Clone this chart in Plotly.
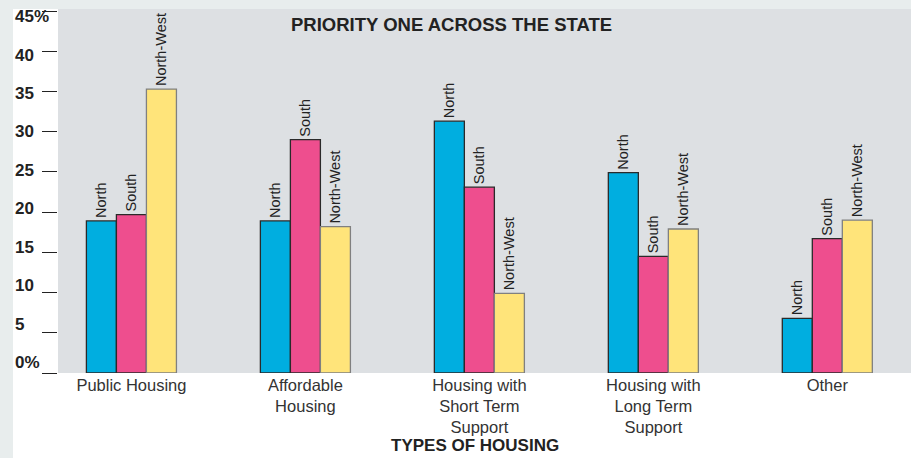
import plotly.graph_objects as go

categories = ["Public Housing", "Affordable<br>Housing", "Housing with<br>Short Term<br>Support",
              "Housing with<br>Long Term<br>Support", "Other"]
series_names = ["North", "South", "North-West"]
north = [18.9, 18.9, 31.3, 24.9, 6.8]
south = [19.7, 29.0, 23.1, 14.5, 16.7]
north_west = [35.3, 18.2, 9.9, 17.9, 19.0]
tick_values = [0, 5, 10, 15, 20, 25, 30, 35, 40, 45]
tick_labels = ["0%", "5", "10", "15", "20", "25", "30", "35", "40", "45%"]

title_text = "PRIORITY ONE ACROSS THE STATE"
xaxis_title = "TYPES OF HOUSING"

W, H = 911, 458
ML, MR, MT, MB = 58, 0, 9, 85
pw, ph = W - ML - MR, H - MT - MB

def px_x(p):
    return (p - ML) / pw

def px_y(p):
    return (H - MB - p) / ph

colors = ["#00aee0", "#ee4e8e", "#ffe47a"]
outlines = ["#2a2a2a", "#2a2a2a", "#808080"]
series = [north, south, north_west]

fig = go.Figure()
xs = list(range(len(categories)))
for name, vals, c, oc in zip(series_names, series, colors, outlines):
    fig.add_trace(go.Bar(
        x=xs, y=vals, name=name,
        marker=dict(color=c, line=dict(color=oc, width=1.3)),
        text=[name] * len(vals), textposition="outside", textangle=-90,
        constraintext="none", cliponaxis=False,
        textfont=dict(family="Liberation Sans, Arial, sans-serif", size=14.5, color="#222222"),
        hoverinfo="skip",
    ))

annotations = [
    dict(text=f"<b>{title_text}</b>", x=px_x(451), y=px_y(24.5), xref="paper", yref="paper",
         xanchor="center", yanchor="middle", showarrow=False,
         font=dict(family="Liberation Sans, Arial, sans-serif", size=18.5, color="#222222")),
    dict(text=f"<b>{xaxis_title}</b>", x=px_x(474.5), y=px_y(445), xref="paper", yref="paper",
         xanchor="center", yanchor="middle", showarrow=False,
         font=dict(family="Liberation Sans, Arial, sans-serif", size=17, color="#222222")),
]
for v, lab in zip(tick_values, tick_labels):
    annotations.append(dict(
        text=f"<b>{lab}</b>", x=px_x(13), y=v, xref="paper", yref="y",
        xanchor="left", yanchor="middle", showarrow=False,
        yshift=(45 - v) * 0.345 - 5.5,
        font=dict(family="Liberation Sans Narrow, Arial Narrow, Liberation Sans, sans-serif",
                  size=17, color="#222222")))

strip = "#e8eded"
shapes = [
    dict(type="rect", xref="paper", yref="paper", x0=px_x(0), x1=1, y0=px_y(9), y1=px_y(0),
         fillcolor=strip, line=dict(width=0), layer="below"),
    dict(type="rect", xref="paper", yref="paper", x0=px_x(0), x1=px_x(13), y0=px_y(H), y1=px_y(0),
         fillcolor=strip, line=dict(width=0), layer="below"),
]

fig.update_layout(
    width=W, height=H,
    margin=dict(l=ML, r=MR, t=MT, b=MB, pad=0),
    paper_bgcolor="white", plot_bgcolor="#dde0e3",
    barmode="group", bargap=0.4825, bargroupgap=0,
    showlegend=False,
    annotations=annotations, shapes=shapes,
    xaxis=dict(
        tickmode="array", tickvals=xs, ticktext=categories,
        range=[-0.422, 4.481], showgrid=False, zeroline=False, showline=False, ticks="",
        tickfont=dict(family="Liberation Sans, Arial, sans-serif", size=16.5, color="#333333"),
        fixedrange=True,
    ),
    yaxis=dict(
        range=[0, 45.25], tickmode="array", tickvals=tick_values, ticktext=tick_labels,
        showticklabels=False, ticks="outside", ticklen=15, tickwidth=1.3, tickcolor="#222222",
        showgrid=False, zeroline=False, showline=False, fixedrange=True,
    ),
)

fig.write_html("out.html", config={"displayModeBar": False},
               post_script="document.body.style.margin='0';document.body.style.padding='0';")
